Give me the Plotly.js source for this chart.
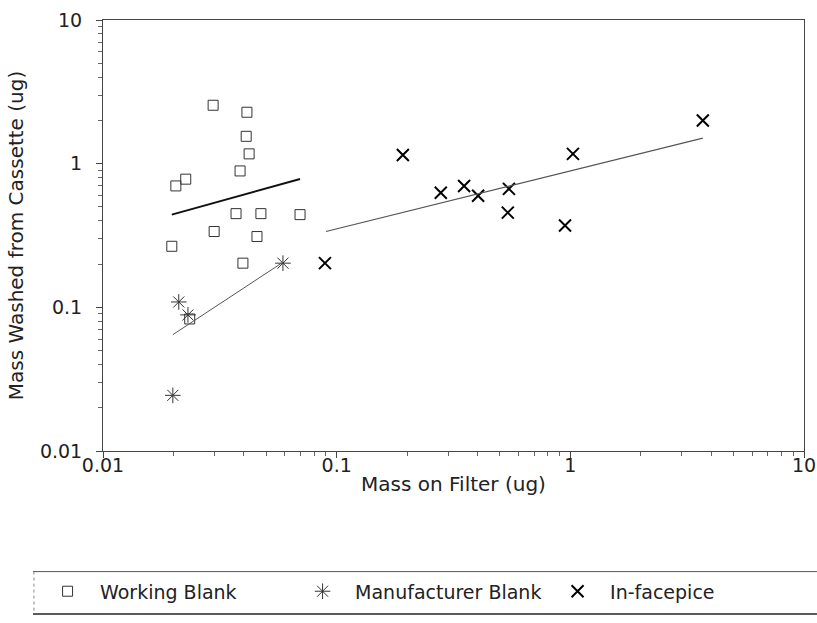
<!DOCTYPE html>
<html>
<head>
<meta charset="utf-8">
<script src="https://cdn.plot.ly/plotly-3.0.1.min.js"></script>
<style>html,body{margin:0;padding:0;background:#fff;}#chart{width:817px;height:623px;}</style>
</head>
<body>
<div id="chart"></div>
<script>
// Working Blank
var wbX = [0.0296, 0.0413, 0.041, 0.0422, 0.0386, 0.0205, 0.0226, 0.0371, 0.0474, 0.0697, 0.0299, 0.0456, 0.0197, 0.0397, 0.0235];
var wbY = [2.55, 2.28, 1.55, 1.17, 0.89, 0.70, 0.78, 0.449, 0.449, 0.442, 0.337, 0.311, 0.266, 0.203, 0.083];
// Manufacturer Blank
var mbX = [0.0211, 0.0231, 0.0199, 0.0589];
var mbY = [0.109, 0.0886, 0.0244, 0.203];
// In-facepice
var ifX = [3.69, 0.192, 1.026, 0.279, 0.351, 0.403, 0.546, 0.54, 0.949, 0.0891];
var ifY = [2.0, 1.15, 1.17, 0.627, 0.70, 0.598, 0.668, 0.456, 0.371, 0.203];
// fitted lines (endpoints)
var wbFitX = [0.0197, 0.0697], wbFitY = [0.442, 0.783];
var mbFitX = [0.0199, 0.0589], mbFitY = [0.0645, 0.206];
var ifFitX = [0.090, 3.69], ifFitY = [0.337, 1.505];
var tickVals = [0.01, 0.1, 1, 10];
var tickText = ['0.01', '0.1', '1', '10'];

var FONT = 'DejaVu Sans, Liberation Sans, Arial, sans-serif';
var traces = [
  {x: wbX, y: wbY, type: 'scatter', mode: 'markers', name: 'Working Blank',
   marker: {symbol: 'square-open', size: 10, color: '#333', line: {width: 1, color: '#333'}}},
  {x: mbX, y: mbY, type: 'scatter', mode: 'markers', name: 'Manufacturer Blank',
   marker: {symbol: 'asterisk-open', size: 13, color: '#333', line: {width: 1, color: '#333'}}},
  {x: ifX, y: ifY, type: 'scatter', mode: 'markers', name: 'In-facepice',
   marker: {symbol: 'x-thin-open', size: 12, color: '#000', line: {width: 2, color: '#000'}}},
  {x: wbFitX, y: wbFitY, type: 'scatter', mode: 'lines', showlegend: false, hoverinfo: 'skip',
   line: {color: '#111', width: 2}},
  {x: mbFitX, y: mbFitY, type: 'scatter', mode: 'lines', showlegend: false, hoverinfo: 'skip',
   line: {color: '#555', width: 1}},
  {x: ifFitX, y: ifFitY, type: 'scatter', mode: 'lines', showlegend: false, hoverinfo: 'skip',
   line: {color: '#555', width: 1.2}}
];

var axisCommon = {
  type: 'log', showgrid: false, zeroline: false,
  showline: true, linecolor: '#444', linewidth: 1, mirror: true,
  ticks: 'outside', ticklen: 6, tickcolor: '#444', tickwidth: 1,
  tickvals: tickVals, ticktext: tickText,
  tickfont: {family: FONT, size: 19, color: '#222'},
  minor: {ticks: 'outside', ticklen: 4, tickcolor: '#666', dtick: 'D1', showgrid: false}
};

var layout = {
  width: 817, height: 623,
  margin: {l: 103, r: 13, t: 20, b: 167},
  paper_bgcolor: '#fff', plot_bgcolor: '#fff',
  font: {family: FONT, color: '#222'},
  showlegend: true,
  xaxis: Object.assign({}, axisCommon, {
    range: [-2, 1],
    ticklabelstandoff: -9,
    title: {text: 'Mass on Filter (ug)', font: {family: FONT, size: 20, color: '#222'}, standoff: 2}
  }),
  yaxis: Object.assign({}, axisCommon, {
    range: [-2, 1],
    ticklabelstandoff: 10,
    title: {text: 'Mass Washed from Cassette (ug)', font: {family: FONT, size: 20, color: '#222'}, standoff: 10}
  }),
  legend: {
    orientation: 'h', x: -0.0969, xanchor: 'left', y: -0.3257, yanchor: 'middle',
    font: {family: FONT, size: 19, color: '#222'}, itemwidth: 55,
    entrywidth: 185, entrywidthmode: 'pixels', bgcolor: 'rgba(0,0,0,0)', borderwidth: 0
  },
  shapes: [
    {type: 'line', xref: 'paper', yref: 'paper', x0: -0.0999, x1: 1.0185, y0: -0.2798, y1: -0.2798, line: {color: '#555', width: 1}},
    {type: 'line', xref: 'paper', yref: 'paper', x0: -0.0999, x1: 1.0185, y0: -0.3784, y1: -0.3784, line: {color: '#222', width: 1.5}},
    {type: 'line', xref: 'paper', yref: 'paper', x0: -0.0985, x1: -0.0985, y0: -0.2798, y1: -0.3784, line: {color: '#888', width: 1, dash: 'dot'}}
  ]
};

Plotly.newPlot('chart', traces, layout, {staticPlot: true, displayModeBar: false});
</script>
</body>
</html>
